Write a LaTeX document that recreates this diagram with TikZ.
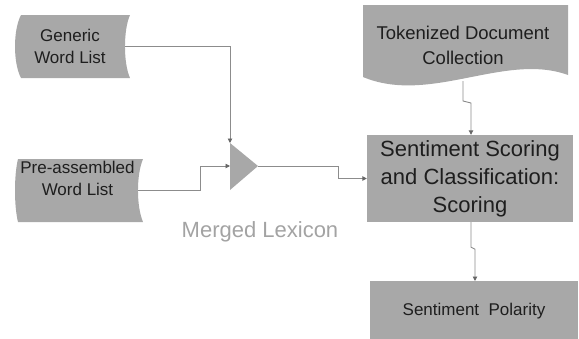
\documentclass[tikz,border=0pt]{standalone}
\usepackage{fontspec}
\setmainfont{Liberation Sans}
\usetikzlibrary{arrows.meta}
\definecolor{boxgray}{HTML}{A8A8A8}
\definecolor{linegray}{HTML}{8C8C8C}
\definecolor{txtdark}{HTML}{1E1E1E}
\definecolor{lexgray}{HTML}{A3A3A3}
\definecolor{tipgray}{HTML}{666666}
\begin{document}
\begin{tikzpicture}[x=1pt,y=-1pt,
  txt/.style={text=txtdark, align=center, inner sep=0pt},
  fsA/.style={font=\fontsize{17}{22}\selectfont},
  fsB/.style={font=\fontsize{18.5}{25}\selectfont},
  fsC/.style={font=\fontsize{22}{28}\selectfont},
  fsD/.style={font=\fontsize{17}{20}\selectfont},
  anchorbox/.style={inner sep=0pt, outer sep=0pt},
  conn/.style={draw=linegray, line width=0.9pt, -{Triangle[length=4.5pt,width=4.5pt,color=tipgray]}}]
\clip (0,0) rectangle (579,338);
% Generic Word List
\fill[boxgray] (21,15) -- (130,15) .. controls (123.3,30) and (123.3,63) .. (130,78) -- (21,78) .. controls (13,63) and (13,30) .. (21,15) -- cycle;
\node[txt, fsA, minimum width=110pt, minimum height=63pt] (gen) at (70,46.5) {Generic\\Word List};
% Pre-assembled Word List
\fill[boxgray] (18,159) -- (143,159) .. controls (136.3,175) and (136.3,206) .. (143,222) -- (18,222) .. controls (14,206) and (14,175) .. (18,159) -- cycle;
\node[anchorbox, minimum width=123pt, minimum height=63pt] (pre) at (76.5,190.5) {};
\node[txt, fsA] (pretxt) at (77.5,178) {Pre-assembled\\Word List};
% Merge triangle
\coordinate (mtop) at (230,143);
\coordinate (mbot) at (230,190);
\coordinate (min) at (230,166);
\coordinate (mtip) at (258,166);
\fill[boxgray] (mtop) -- (mtip) -- (mbot) -- cycle;
\node[text=lexgray, font=\fontsize{22}{26}\selectfont, anchor=base, inner sep=0pt] (lex) at (260,237) {Merged Lexicon};
% Tokenized Document Collection
\fill[boxgray] (363,5) -- (568,5) -- (568,75) .. controls (505,52) and (430,105) .. (363,77) -- cycle;
\node[txt, fsB] (tok) at (463,45.8) {Tokenized Document\\Collection};
\coordinate (tokout) at (463,81);
% Sentiment Scoring
\node[txt, fsC, fill=boxgray, minimum width=206pt, minimum height=87pt] (score) at (470,178.5) {Sentiment Scoring\\and Classification:\\Scoring};
% Sentiment Polarity
\node[anchorbox, fill=boxgray, minimum width=208pt, minimum height=60pt] (pol) at (474,311) {};
\node[txt, fsD, anchor=base] (poltxt) at (474,315) {Sentiment\ \ Polarity};
% connectors
\draw[conn] (gen.east) -| (mtop);
\draw[conn] (pre.east) -- ++(62,0) |- (min);
\draw[conn] (mtip) -- ++(80,0) |- (score.west);
\draw[conn] (tokout) -- ++(0,20) -- ++(8,2) -- ([xshift=1pt]score.north);
\draw[conn] ([xshift=1pt]score.south) -- ++(0,25) -- ++(4,2) -- ([xshift=1pt]pol.north);
\end{tikzpicture}
\end{document}
